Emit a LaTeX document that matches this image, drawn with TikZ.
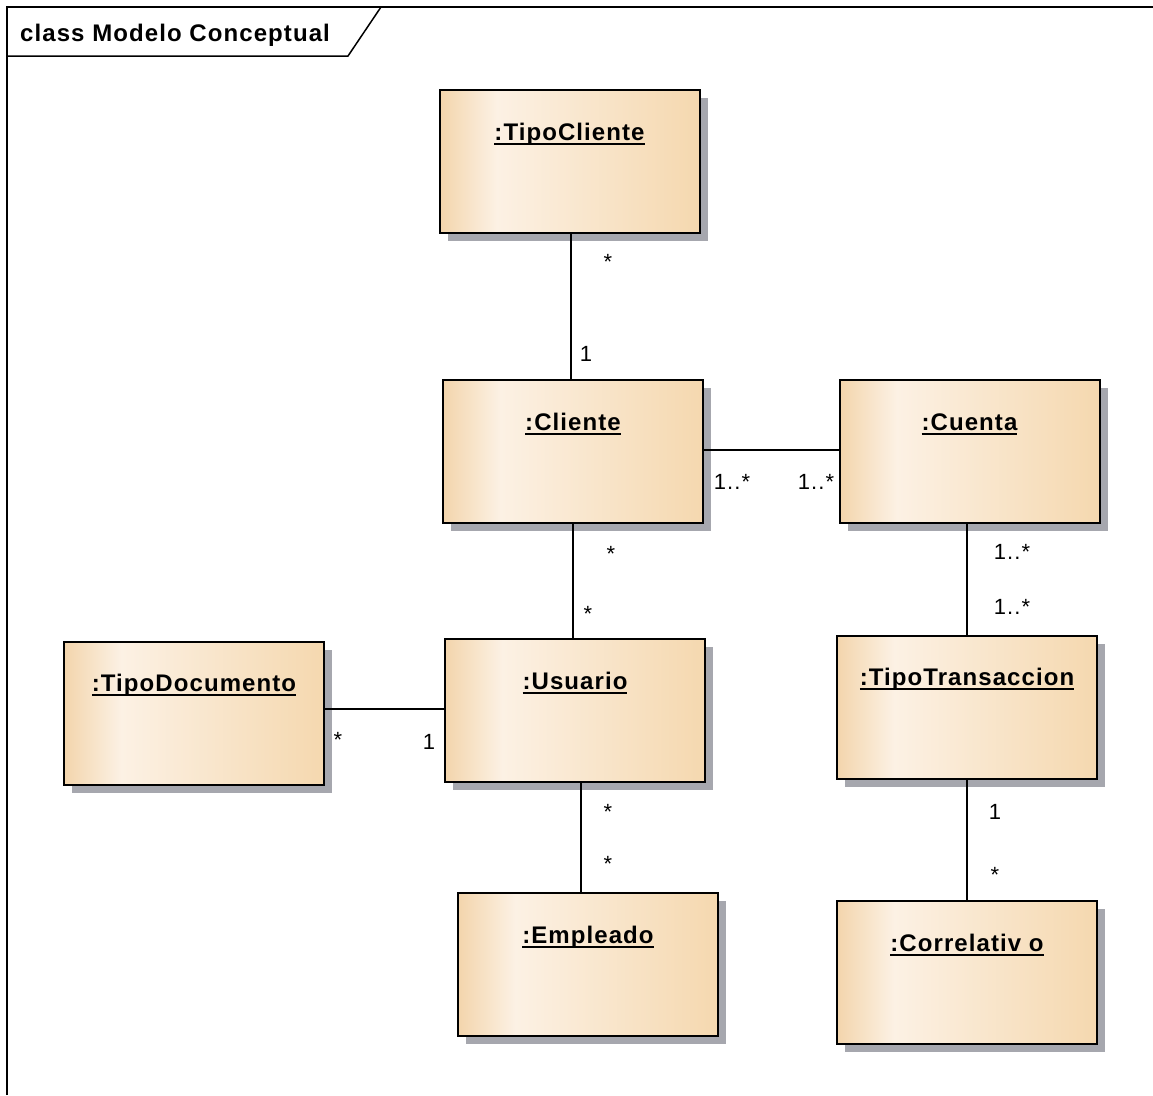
\documentclass[tikz,border=0pt]{standalone}
\usepackage{fontspec}
\setmainfont{Liberation Sans}
\newfontfamily\umlfont[LetterSpace=4.5]{Liberation Sans}
\newfontfamily\multfont[LetterSpace=5]{Liberation Sans}
\usetikzlibrary{shadows}

\definecolor{bxA}{HTML}{F3D5AC}
\definecolor{bxB}{HTML}{FCF1E4}
\definecolor{bxC}{HTML}{F5D8AF}
\definecolor{shadowgray}{HTML}{A6A7AE}

% horizontal fill of the object boxes: tan edge, pale band, tan again
\pgfdeclarehorizontalshading{umlfill}{100bp}{color(0bp)=(bxA); color(25bp)=(bxA); color(36bp)=(bxB); color(75bp)=(bxC); color(100bp)=(bxC)}

% underlined object name
\newcommand{\umlname}[1]{\setbox0\hbox{#1}\leavevmode\rlap{\rule[-4.5pt]{\wd0}{1.9pt}}\box0}

\tikzset{
  frameline/.style={draw=black, line width=1.5pt},
  umlbox/.style={draw=black, line width=2pt, shade, shading=umlfill,
    minimum width=260pt, minimum height=143pt, inner sep=0pt,
    drop shadow={shadow xshift=8pt, shadow yshift=-8pt, fill=shadowgray, opacity=1}},
  nametext/.style={inner sep=0pt, anchor=base,
    font=\umlfont\bfseries\fontsize{24}{28}\selectfont},
  titletext/.style={inner sep=0pt, anchor=base west,
    font=\umlfont\bfseries\fontsize{24}{28}\selectfont},
  mult/.style={inner sep=0pt, font=\multfont\fontsize{22}{26}\selectfont},
  assoc/.style={draw=black, line width=2pt}
}

\begin{document}
\begin{tikzpicture}[x=1pt,y=-1pt]
\useasboundingbox (0,0) rectangle (1153,1095);
\fill[white] (0,0) rectangle (1153,1095);

% diagram frame and its name tab
\draw[frameline] (7,1095) -- (7,7) -- (1153,7);
\draw[frameline] (7,56) -- (348,56) -- (381,7);
\node[titletext] (title) at (20,41) {class Modelo Conceptual};

% objects
\node[umlbox] (tcl) at (569.5,161.5) {};
\node[umlbox] (cli) at (573,451.5) {};
\node[umlbox] (cue) at (969.5,451.5) {};
\node[umlbox] (tdo) at (194,713) {};
\node[umlbox] (usu) at (575,710.5) {};
\node[umlbox] (ttr) at (967,707) {};
\node[umlbox] (emp) at (588,964.5) {};
\node[umlbox] (cor) at (967,972.5) {};

\node[nametext] (tcl-n) at ([yshift=-51pt]tcl.north) {\umlname{:TipoCliente}};
\node[nametext] (cli-n) at ([yshift=-51pt]cli.north) {\umlname{:Cliente}};
\node[nametext] (cue-n) at ([yshift=-51pt]cue.north) {\umlname{:Cuenta}};
\node[nametext] (tdo-n) at ([yshift=-51pt]tdo.north) {\umlname{:TipoDocumento}};
\node[nametext] (usu-n) at ([yshift=-51pt]usu.north) {\umlname{:Usuario}};
\node[nametext] (ttr-n) at ([yshift=-51pt]ttr.north) {\umlname{:TipoTransaccion}};
\node[nametext] (emp-n) at ([yshift=-51pt]emp.north) {\umlname{:Empleado}};
\node[nametext] (cor-n) at ([yshift=-51pt]cor.north) {\umlname{:Correlativ o}};

% attachment columns and rows of the associations
\coordinate (xa) at (571,0);
\coordinate (xb) at (573,0);
\coordinate (xc) at (581,0);
\coordinate (xd) at (967,0);
\coordinate (ya) at (0,450);
\coordinate (yb) at (0,709);

% associations
\draw[assoc] (tcl.south -| xa) -- (cli.north -| xa);
\draw[assoc] (cli.east |- ya) -- (cue.west |- ya);
\draw[assoc] (cli.south -| xb) -- (usu.north -| xb);
\draw[assoc] (tdo.east |- yb) -- (usu.west |- yb);
\draw[assoc] (usu.south -| xc) -- (emp.north -| xc);
\draw[assoc] (cue.south -| xd) -- (ttr.north -| xd);
\draw[assoc] (ttr.south -| xd) -- (cor.north -| xd);

% multiplicities
\node[mult] (m1) at (608,262) {*};
\node[mult] (m2) at (586,354) {1};
\node[mult] (m3) at (732,482) {1..*};
\node[mult] (m4) at (816,482) {1..*};
\node[mult] (m5) at (611,554) {*};
\node[mult] (m6) at (588,614) {*};
\node[mult] (m7) at (338,740) {*};
\node[mult] (m8) at (429,742) {1};
\node[mult] (m9) at (608,812) {*};
\node[mult] (m10) at (608,864) {*};
\node[mult] (m11) at (1012,552) {1..*};
\node[mult] (m12) at (1012,607) {1..*};
\node[mult] (m13) at (995,812) {1};
\node[mult] (m14) at (995,875) {*};
\end{tikzpicture}
\end{document}
